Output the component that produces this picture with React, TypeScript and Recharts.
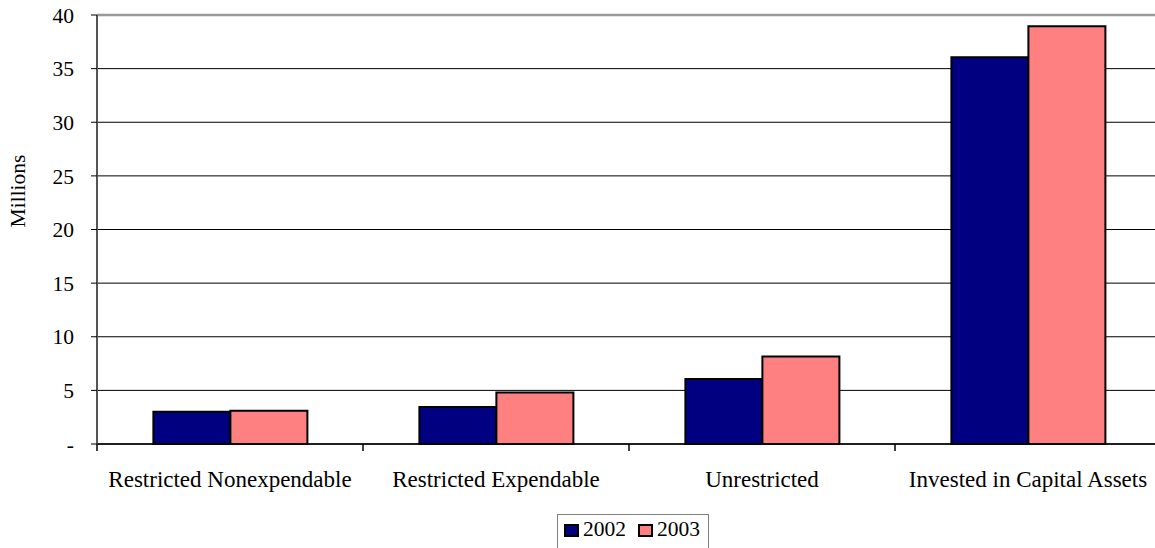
import React from 'react';
import { Bar, BarChart, CartesianGrid, Legend, ReferenceLine, XAxis, YAxis } from 'recharts';

const CATEGORIES = [
  'Restricted Nonexpendable',
  'Restricted Expendable',
  'Unrestricted',
  'Invested in Capital Assets',
];
const VALUES_2002 = [3.0, 3.45, 6.05, 36.05];
const VALUES_2003 = [3.1, 4.8, 8.15, 38.95];
const Y_TICKS = [0, 5, 10, 15, 20, 25, 30, 35, 40];

const FONT = 'Liberation Serif';
const COLORS = {
  y2002: '#000080',
  y2003: '#FF8080',
};

const CHART_W = 1161;
const CHART_H = 548;
const Y_AXIS_W = 97;
const BAND = (CHART_W - Y_AXIS_W) / CATEGORIES.length;

const data = CATEGORIES.map((name, i) => ({
  name,
  y2002: VALUES_2002[i],
  y2003: VALUES_2003[i],
}));

function CategoryTick(props: any) {
  const { x, y, payload, index } = props;
  const half = BAND / 2;
  return (
    <g>
      <line x1={x - half} x2={x - half} y1={y} y2={y + 7} stroke="#000" strokeWidth={1.5} />
      {index === CATEGORIES.length - 1 && (
        <line x1={x + half} x2={x + half} y1={y} y2={y + 7} stroke="#000" strokeWidth={1.5} />
      )}
      <text x={x} y={y + 43} textAnchor="middle" fill="#000" style={{ fontFamily: FONT, fontSize: 23 }}>
        {payload.value}
      </text>
    </g>
  );
}

function Swatch({ color }: { color: string }) {
  return (
    <span
      style={{
        display: 'inline-block',
        width: 15,
        height: 13,
        boxSizing: 'border-box',
        background: color,
        border: '2px solid #000',
        marginRight: 4,
      }}
    />
  );
}

function LegendBox() {
  return (
    <div
      style={{
        boxSizing: 'border-box',
        width: 152,
        height: 40,
        border: '1px solid #808080',
        background: '#fff',
        display: 'flex',
        alignItems: 'center',
        paddingLeft: 6,
        paddingBottom: 8,
        fontFamily: FONT,
        fontSize: 21.5,
        color: '#000',
        lineHeight: 1,
      }}
    >
      <Swatch color={COLORS.y2002} />
      <span style={{ marginRight: 12 }}>2002</span>
      <Swatch color={COLORS.y2003} />
      <span>2003</span>
    </div>
  );
}

function MillionsLabel() {
  return (
    <text
      x={18}
      y={191}
      transform="rotate(-90 18 191)"
      textAnchor="middle"
      dominantBaseline="central"
      fill="#000"
      style={{ fontFamily: FONT, fontSize: 21.5 }}
    >
      Millions
    </text>
  );
}

export default function App() {
  return (
    <div
      style={{
        position: 'absolute',
        left: 0,
        top: 0,
        width: 1155,
        height: 548,
        overflow: 'hidden',
        background: '#fff',
        fontFamily: FONT,
      }}
    >
      <BarChart
        width={CHART_W}
        height={CHART_H}
        data={data}
        margin={{ top: 15, right: 0, left: 0, bottom: 0 }}
        barCategoryGap="21.2%"
        barGap={0}
        style={{ fontFamily: FONT }}
      >
        <CartesianGrid vertical={false} stroke="#000" strokeWidth={1} />
        <XAxis
          dataKey="name"
          height={64}
          interval={0}
          tickLine={false}
          tickSize={0}
          tickMargin={0}
          axisLine={{ stroke: '#000', strokeWidth: 1.5 }}
          tick={<CategoryTick />}
        />
        <YAxis
          width={Y_AXIS_W}
          domain={[0, 40]}
          ticks={Y_TICKS}
          interval={0}
          tickSize={6}
          tickMargin={17}
          tickFormatter={(v: number) => (v === 0 ? '-' : String(v))}
          tick={{ fill: '#000', fontSize: 21.5, fontFamily: FONT }}
          tickLine={{ stroke: '#000' }}
          axisLine={{ stroke: '#555', strokeWidth: 2 }}
          label={<MillionsLabel />}
        />
        <ReferenceLine y={40} stroke="#999" strokeWidth={2.5} />
        <Legend
          verticalAlign="bottom"
          content={<LegendBox />}
          wrapperStyle={{ top: 514, left: 557, bottom: 'auto', width: 152 }}
        />
        <Bar dataKey="y2002" name="2002" fill={COLORS.y2002} stroke="#000" strokeWidth={2} isAnimationActive={false} />
        <Bar dataKey="y2003" name="2003" fill={COLORS.y2003} stroke="#000" strokeWidth={2} isAnimationActive={false} />
      </BarChart>
    </div>
  );
}
